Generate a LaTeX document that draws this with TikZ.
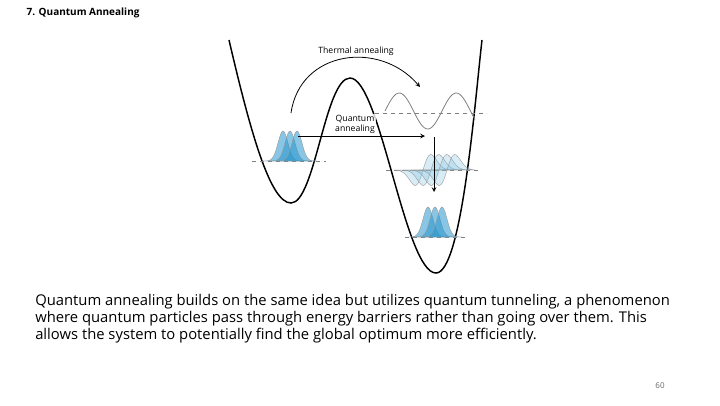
\documentclass[tikz,border=0pt]{standalone}
\usepackage{fontspec}
\setmainfont{Open Sans}
\usetikzlibrary{positioning}
\definecolor{wave}{RGB}{40,150,205}
\tikzset{
  level/.style={dashed, gray, line width=0.6pt},
  gauss/.style={draw=black!40, line width=0.3pt, fill=wave, fill opacity=0.55},
  faded/.style={draw=black!40, line width=0.3pt, fill=wave!60, fill opacity=0.3},
  lbl/.style={font=\fontsize{6.5}{7.5}\selectfont, align=center, inner sep=0.75pt}
}
\begin{document}
\begin{tikzpicture}[x=0.75pt,y=0.75pt,yscale=-1,xscale=1]
\useasboundingbox (0,0) rectangle (720,405);

% title and page number
\node (title) [anchor=west, font=\fontsize{7.5}{9}\selectfont\bfseries] at (22,13) {7. Quantum Annealing};
\node (page) [font=\fontsize{6}{7}\selectfont, text=black!60] at (660,386) {60};

% potential
\draw [line width=1.1pt] (229,40) .. controls (250,130) and (270,203) .. (291,203) .. controls (315,203) and (325,78) .. (350,78) .. controls (380,78) and (405,273) .. (436,273) .. controls (462,273) and (475,100) .. (482,40);

% energy levels
\draw [level] (252,161) -- (326,161);
\draw [level] (375,113) -- (487,113);
\draw [level] (386,170) -- (480,170);
\draw [level] (405,237) -- (465,237);

% left packets
\foreach \c in {283,290,297}
  \fill [gauss] plot [domain=-20:20, samples=40] ({\c+\x},{161-30*exp(-(\x/7)^2)}) -- cycle;

% excited packets
\foreach \c in {423,431,439,447}
  \fill [faded] plot [domain=-28:28, samples=50] ({\c+\x},{170-36*(\x/11)*exp(-(\x/11)^2)}) -- cycle;

% ground packets
\foreach \c in {428,435,442}
  \fill [gauss] plot [domain=-20:20, samples=40] ({\c+\x},{237-30*exp(-(\x/7)^2)}) -- cycle;

% thermal wave
\draw [black!50, line width=0.6pt] plot [domain=0:90, samples=60] ({385+\x},{111-18*sin(6.316*\x)});

% annealing paths
\coordinate (tStart) at (291,113);
\coordinate (tEnd) at (420,87);
\coordinate (qStart) at (298,136);
\coordinate (qEnd) at (425,136);
\coordinate (dStart) at (434,137);
\coordinate (dEnd) at (434,192);
\draw [->, >=stealth, line width=0.6pt] (tStart) .. controls (300,50) and (380,40) .. (tEnd);
\draw [->, >=stealth, line width=0.6pt] (qStart) -- (qEnd);
\draw [->, >=stealth, line width=0.6pt] (dStart) -- (dEnd);
\node (thermal) [lbl] at (356,51) {Thermal annealing};
\node (quantum) [lbl, fill=white, fill opacity=0.8, text opacity=1] at (355,124) {Quantum\\annealing};

% body text
\node (body) [anchor=north west, align=left, inner sep=0pt, font=\fontsize{11.1}{12.8}\selectfont] at (35,294)
 {Quantum annealing builds on the same idea but utilizes quantum tunneling, a phenomenon\\
  where quantum particles pass through energy barriers rather than going over them. This\\
  allows the system to potentially find the global optimum more efficiently.};
\end{tikzpicture}
\end{document}
